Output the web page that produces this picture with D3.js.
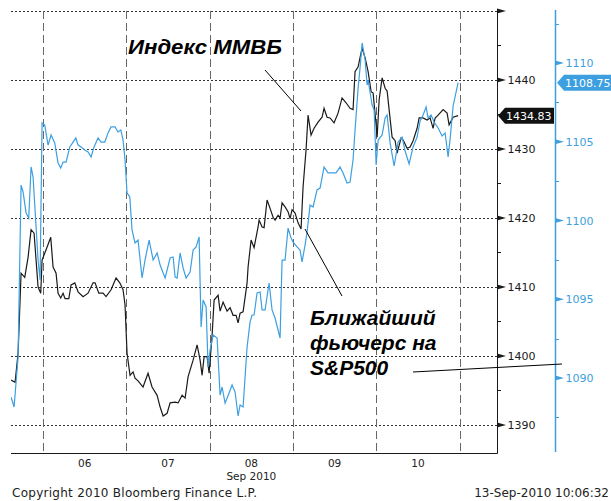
<!DOCTYPE html>
<html>
<head>
<meta charset="utf-8">
<script src="https://cdn.jsdelivr.net/npm/d3@7"></script>
<style>
body { margin: 0; background: #fff; }
svg { display: block; }
</style>
</head>
<body>
<svg id="chart" width="611" height="501"></svg>
<script>
// trading-day position (0 = open of Sep 6, each day = 1), value
const dayLabels = ["06", "07", "08", "09", "10"];
const dayBounds = [0, 1, 2, 3, 4, 5];
const mmvbTicks = [1390, 1400, 1410, 1420, 1430, 1440, 1450];
const mmvbMinor = [1395, 1405, 1415, 1425, 1435, 1445];
const spTicks = [1090, 1095, 1100, 1105, 1110];
const spMinor = [1087.5, 1092.5, 1097.5, 1102.5, 1107.5, 1112.5];
const mmvbLast = 1434.83;
const spLast = 1108.75;

const mmvb = [[-0.384,1396.5],[-0.336,1396.2],[-0.300,1400.4],[-0.264,1412.0],[-0.220,1411.4],[-0.180,1414.3],[-0.144,1418.3],[-0.108,1417.8],[-0.084,1413.9],[-0.060,1410.0],[-0.028,1409.1],[-0.012,1413.9],[0.036,1415.4],[0.092,1417.2],[0.120,1412.9],[0.156,1412.0],[0.180,1409.1],[0.212,1408.4],[0.240,1409.1],[0.264,1408.3],[0.309,1408.3],[0.336,1410.3],[0.381,1410.6],[0.420,1409.3],[0.480,1408.6],[0.540,1409.1],[0.600,1410.6],[0.624,1410.6],[0.669,1409.1],[0.720,1409.1],[0.756,1408.6],[0.816,1409.6],[0.876,1411.3],[0.921,1410.6],[0.960,1409.6],[0.984,1407.4],[1.008,1400.4],[1.044,1397.2],[1.080,1397.7],[1.104,1396.8],[1.140,1396.4],[1.200,1395.5],[1.260,1397.5],[1.308,1395.5],[1.369,1394.3],[1.405,1392.6],[1.441,1391.3],[1.489,1391.7],[1.525,1393.2],[1.585,1393.3],[1.621,1393.2],[1.669,1394.3],[1.705,1393.9],[1.741,1397.0],[1.801,1399.4],[1.849,1401.6],[1.885,1399.4],[1.909,1397.2],[1.933,1399.9],[1.969,1399.9],[1.993,1397.5],[2.029,1403.0],[2.053,1408.1],[2.101,1408.8],[2.125,1406.5],[2.161,1407.8],[2.209,1406.5],[2.245,1407.0],[2.281,1405.9],[2.317,1405.9],[2.341,1404.8],[2.365,1406.2],[2.401,1406.4],[2.449,1410.6],[2.461,1412.9],[2.497,1416.8],[2.533,1415.7],[2.581,1418.7],[2.593,1419.7],[2.629,1418.7],[2.653,1418.6],[2.689,1422.6],[2.725,1421.4],[2.761,1420.1],[2.785,1419.7],[2.821,1420.4],[2.845,1420.0],[2.869,1422.2],[2.905,1421.6],[2.941,1420.9],[2.965,1419.9],[2.989,1421.2],[3.025,1420.7],[3.061,1419.3],[3.097,1418.4],[3.121,1424.5],[3.157,1429.9],[3.181,1434.9],[3.217,1432.0],[3.253,1433.0],[3.301,1433.9],[3.349,1434.6],[3.373,1435.9],[3.409,1434.6],[3.445,1434.5],[3.493,1433.8],[3.541,1435.2],[3.589,1437.4],[3.637,1436.7],[3.685,1435.9],[3.721,1435.7],[3.745,1441.2],[3.782,1441.9],[3.806,1443.3],[3.830,1444.6],[3.866,1443.2],[3.902,1441.2],[3.938,1438.3],[3.962,1438.1],[3.998,1433.5],[4.010,1431.7],[4.034,1437.1],[4.070,1440.3],[4.106,1438.8],[4.130,1438.4],[4.154,1435.7],[4.190,1431.7],[4.226,1431.2],[4.250,1429.4],[4.298,1431.6],[4.322,1431.3],[4.370,1430.1],[4.406,1430.3],[4.442,1431.2],[4.490,1433.0],[4.514,1434.5],[4.562,1434.5],[4.610,1434.2],[4.646,1434.5],[4.682,1433.0],[4.706,1434.5],[4.742,1434.9],[4.802,1435.7],[4.850,1435.2],[4.874,1433.5],[4.922,1434.6],[4.982,1434.83]];

const sp500 = [[-0.384,1088.79],[-0.348,1088.16],[-0.300,1091.33],[-0.264,1102.25],[-0.240,1101.81],[-0.204,1100.48],[-0.172,1100.16],[-0.144,1103.40],[-0.120,1102.76],[-0.096,1100.67],[-0.060,1097.49],[-0.036,1096.22],[-0.024,1101.30],[-0.012,1106.19],[0.020,1106.06],[0.060,1104.79],[0.096,1105.43],[0.140,1104.92],[0.180,1103.65],[0.212,1103.33],[0.240,1103.71],[0.276,1103.71],[0.321,1104.67],[0.360,1104.98],[0.393,1105.24],[0.420,1104.79],[0.456,1104.67],[0.501,1104.48],[0.540,1104.35],[0.576,1104.03],[0.612,1104.67],[0.660,1105.24],[0.696,1104.98],[0.741,1104.98],[0.780,1105.56],[0.816,1105.94],[0.864,1105.94],[0.900,1105.62],[0.933,1105.75],[0.960,1105.11],[0.984,1103.84],[1.008,1101.75],[1.041,1101.49],[1.068,1099.40],[1.104,1098.57],[1.140,1098.76],[1.188,1096.35],[1.224,1097.49],[1.273,1098.76],[1.321,1097.49],[1.369,1097.94],[1.405,1097.17],[1.465,1096.35],[1.525,1097.62],[1.561,1097.68],[1.585,1096.41],[1.609,1096.35],[1.645,1097.94],[1.681,1096.98],[1.717,1096.35],[1.765,1096.73],[1.801,1098.13],[1.837,1098.32],[1.873,1098.95],[1.897,1093.24],[1.921,1094.95],[1.957,1094.51],[1.981,1090.70],[2.005,1091.78],[2.041,1092.73],[2.089,1092.54],[2.125,1088.92],[2.149,1089.43],[2.185,1088.41],[2.233,1089.05],[2.269,1089.56],[2.305,1089.11],[2.341,1087.59],[2.365,1088.29],[2.401,1088.16],[2.449,1091.97],[2.485,1093.56],[2.509,1094.00],[2.533,1094.00],[2.569,1095.40],[2.605,1095.46],[2.629,1094.32],[2.665,1094.32],[2.713,1096.03],[2.749,1094.32],[2.785,1093.81],[2.845,1092.54],[2.869,1097.49],[2.905,1097.49],[2.941,1099.52],[2.977,1098.89],[3.001,1098.63],[3.049,1098.32],[3.085,1098.13],[3.109,1097.37],[3.145,1098.44],[3.169,1099.27],[3.205,1100.98],[3.241,1100.86],[3.289,1101.94],[3.325,1102.06],[3.373,1103.40],[3.421,1103.02],[3.481,1103.02],[3.517,1103.02],[3.565,1103.40],[3.601,1103.02],[3.649,1102.38],[3.685,1102.44],[3.721,1103.84],[3.745,1105.75],[3.782,1108.41],[3.806,1109.75],[3.830,1111.27],[3.866,1110.19],[3.890,1108.60],[3.902,1108.92],[3.950,1107.33],[3.974,1107.02],[3.998,1103.52],[4.022,1105.11],[4.070,1105.43],[4.106,1106.51],[4.130,1106.70],[4.166,1104.92],[4.214,1103.46],[4.262,1104.98],[4.310,1105.30],[4.346,1104.41],[4.394,1103.59],[4.442,1104.67],[4.490,1105.30],[4.526,1106.32],[4.562,1106.70],[4.598,1107.21],[4.622,1106.51],[4.658,1106.70],[4.694,1106.25],[4.742,1105.87],[4.790,1105.37],[4.826,1105.56],[4.862,1104.03],[4.886,1105.17],[4.922,1107.27],[4.982,1108.75]];

const black = "#1a1a1a";
const blue = "#3d9fe0";
const font = "'DejaVu Sans', sans-serif";

const plotLeft = 11, plotRight = 497, plotTop = 11, plotBottom = 453;
const blueAxisX = 555;

const svg = d3.select("#chart");

const x = d3.scaleLinear().domain([-0.385, 5.449]).range([plotLeft, plotRight]);
const y = d3.scaleLinear().domain([1385.94, 1450]).range([plotBottom, plotTop]);
const y2 = d3.scaleLinear().domain([1085.24, 1113.30]).range([plotBottom, plotTop]);

// horizontal dotted grid
svg.append("g")
    .selectAll("line")
    .data(mmvbTicks)
    .enter().append("line")
    .attr("x1", plotLeft).attr("x2", plotRight)
    .attr("y1", d => Math.round(y(d)) + 0.5)
    .attr("y2", d => Math.round(y(d)) + 0.5)
    .attr("stroke", "#333")
    .attr("stroke-dasharray", "2,2");

// vertical dashed day separators
svg.append("g")
    .selectAll("line")
    .data(dayBounds)
    .enter().append("line")
    .attr("x1", d => Math.round(x(d)) + 0.5)
    .attr("x2", d => Math.round(x(d)) + 0.5)
    .attr("y1", plotTop).attr("y2", plotBottom)
    .attr("stroke", "#666")
    .attr("stroke-dasharray", "8,4");

// series
svg.append("clipPath").attr("id", "plot")
    .append("rect").attr("x", plotLeft).attr("y", 0).attr("width", plotRight - plotLeft).attr("height", plotBottom);

const line1 = d3.line().x(d => x(d[0])).y(d => y(d[1]));
const line2 = d3.line().x(d => x(d[0])).y(d => y2(d[1]));

svg.append("path")
    .datum(mmvb)
    .attr("clip-path", "url(#plot)")
    .attr("fill", "none")
    .attr("stroke", black)
    .attr("stroke-width", 1.2)
    .attr("d", line1);

svg.append("path")
    .datum(sp500)
    .attr("clip-path", "url(#plot)")
    .attr("fill", "none")
    .attr("stroke", blue)
    .attr("stroke-width", 1.2)
    .attr("d", line2);

// frame: bottom and right axis lines
svg.append("line")
    .attr("x1", plotLeft).attr("x2", plotRight + 0.5)
    .attr("y1", plotBottom + 0.5).attr("y2", plotBottom + 0.5)
    .attr("stroke", black);
svg.append("line")
    .attr("x1", plotRight + 0.5).attr("x2", plotRight + 0.5)
    .attr("y1", plotTop).attr("y2", plotBottom + 0.5)
    .attr("stroke", black);

// MMVB axis (drawn on the right of the plot)
const axis1 = svg.append("g")
    .attr("transform", `translate(${plotRight + 0.5},0)`)
    .call(d3.axisRight(y).tickValues(mmvbTicks.filter(d => d < 1450)).tickSize(0).tickPadding(10).tickFormat(d3.format("d")));
axis1.select(".domain").remove();
axis1.selectAll("text").attr("fill", black).style("font", `11px ${font}`);

svg.append("g")
    .selectAll("path")
    .data(mmvbTicks)
    .enter().append("path")
    .attr("d", d => { const yy = y(d); return `M${plotRight},${yy - 2.5}L${plotRight + 9},${yy}L${plotRight},${yy + 2.5}Z`; })
    .attr("fill", black);

svg.append("g")
    .selectAll("line")
    .data(mmvbMinor)
    .enter().append("line")
    .attr("x1", plotRight).attr("x2", plotRight + 4)
    .attr("y1", d => Math.round(y(d)) + 0.5)
    .attr("y2", d => Math.round(y(d)) + 0.5)
    .attr("stroke", black);

// S&P axis
svg.append("line")
    .attr("x1", blueAxisX + 0.5).attr("x2", blueAxisX + 0.5)
    .attr("y1", plotTop - 1).attr("y2", plotBottom - 1)
    .attr("stroke", blue)
    .attr("stroke-width", 1.5);

const axis2 = svg.append("g")
    .attr("transform", `translate(${blueAxisX + 0.5},0)`)
    .call(d3.axisRight(y2).tickValues(spTicks).tickSize(0).tickPadding(10).tickFormat(d3.format("d")));
axis2.select(".domain").remove();
axis2.selectAll("text").attr("fill", blue).style("font", `11px ${font}`);

svg.append("g")
    .selectAll("path")
    .data(spTicks)
    .enter().append("path")
    .attr("d", d => { const yy = y2(d); return `M${blueAxisX},${yy - 2.5}L${blueAxisX + 9},${yy}L${blueAxisX},${yy + 2.5}Z`; })
    .attr("fill", blue);

svg.append("g")
    .selectAll("line")
    .data(spMinor.filter(d => y2(d) > plotTop && y2(d) < plotBottom))
    .enter().append("line")
    .attr("x1", blueAxisX).attr("x2", blueAxisX + 4)
    .attr("y1", d => Math.round(y2(d)) + 0.5)
    .attr("y2", d => Math.round(y2(d)) + 0.5)
    .attr("stroke", blue);

// last-value tags
function tag(xTip, yv, label, fill, w) {
    const g = svg.append("g").attr("transform", `translate(${xTip},${yv})`);
    g.append("path")
        .attr("d", `M0,0L7,-8H${w}V8H7Z`)
        .attr("fill", fill);
    g.append("text")
        .attr("x", 8).attr("y", 4)
        .attr("fill", "#fff")
        .style("font", `11px ${font}`)
        .text(label);
}
tag(plotRight + 1, y(mmvbLast), d3.format(".2f")(mmvbLast), "#111", 56);
tag(blueAxisX + 2, y2(spLast), d3.format(".2f")(spLast), blue, 60);

// day labels
svg.append("g")
    .selectAll("text")
    .data(dayLabels)
    .enter().append("text")
    .attr("x", (d, i) => x(i + 0.5))
    .attr("y", 467)
    .attr("text-anchor", "middle")
    .attr("fill", "#222")
    .style("font", `10.5px ${font}`)
    .text(d => d);

svg.append("text")
    .attr("x", x(2.5)).attr("y", 480)
    .attr("text-anchor", "middle")
    .attr("fill", "#222")
    .style("font", `10.5px ${font}`)
    .text("Sep 2010");

// footer
svg.append("text")
    .attr("x", 12).attr("y", 497)
    .attr("fill", "#222")
    .attr("textLength", 245)
    .attr("lengthAdjust", "spacing")
    .style("font", `12px ${font}`)
    .text("Copyright 2010 Bloomberg Finance L.P.");
svg.append("text")
    .attr("x", 609).attr("y", 497)
    .attr("text-anchor", "end")
    .attr("fill", "#222")
    .style("font", `12px ${font}`)
    .text("13-Sep-2010 10:06:32");

// annotations
const noteFont = "italic bold 21px 'Liberation Sans', Arial, sans-serif";
svg.append("text")
    .attr("x", 128).attr("y", 54)
    .attr("fill", "#000")
    .attr("textLength", 154)
    .attr("lengthAdjust", "spacingAndGlyphs")
    .style("font", noteFont)
    .text("Индекс ММВБ");

const noteLines = ["Ближайший", "фьючерс на", "S&P500"];
svg.append("g")
    .selectAll("text")
    .data(noteLines)
    .enter().append("text")
    .attr("x", 310)
    .attr("y", (d, i) => 325 + i * 25)
    .attr("fill", "#000")
    .style("font", noteFont)
    .text(d => d);

const pointers = [
    [265, 70, 301, 111],
    [305, 229, 342, 296],
    [413, 372, 562, 364]
];
svg.append("g")
    .selectAll("line")
    .data(pointers)
    .enter().append("line")
    .attr("x1", d => d[0]).attr("y1", d => d[1])
    .attr("x2", d => d[2]).attr("y2", d => d[3])
    .attr("stroke", "#000")
    .attr("stroke-width", 1);
</script>
</body>
</html>
